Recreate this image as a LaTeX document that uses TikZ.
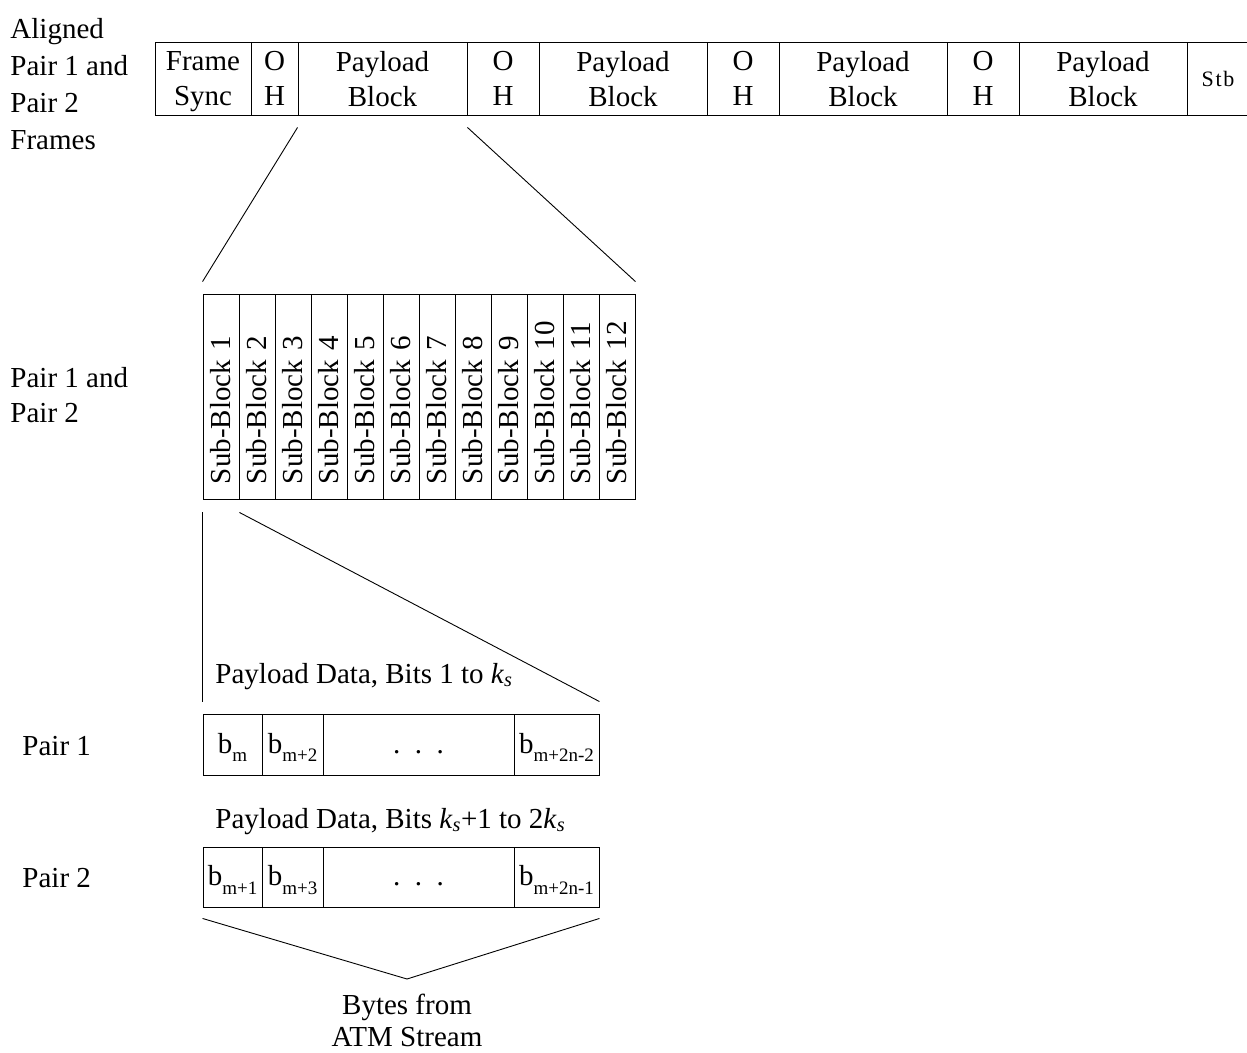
\documentclass[tikz,border=0pt]{standalone}
\usepackage{fontspec}
\setmainfont{Liberation Serif}
\usetikzlibrary{calc}

\tikzset{
  cell/.style={draw, inner sep=0pt, align=center, font=\fontsize{29}{35}\selectfont},
  bytecell/.style={cell, text height=21pt, text depth=4pt},
  lbl/.style={inner sep=0pt, align=left, font=\fontsize{29}{37}\selectfont},
}
\newcommand{\ks}{\textit{k}\textsubscript{\textit{s}}}
\newcommand{\lo}[1]{\raisebox{-0.3em}{\fontsize{19}{19}\selectfont #1}}

\begin{document}
\begin{tikzpicture}[x=1pt, y=-1pt, line width=0.9pt]
      \useasboundingbox (0,0) rectangle (1247,1052);

      % Frame row
      \node [lbl, anchor=base west] (frames) at (10,149) {Aligned\\Pair 1 and\\Pair 2\\Frames};
      \foreach \xa/\xb/\txt [count=\i] in {155/251/{Frame\\Sync}, 251/298/{O\\H},
          298/467/{Payload\\Block}, 467/539/{O\\H}, 539/707/{Payload\\Block},
          707/779/{O\\H}, 779/947/{Payload\\Block}, 947/1019/{O\\H}, 1019/1187/{Payload\\Block}} {
        \node [cell, text depth=0pt, minimum width={(\xb-\xa)*1pt}, minimum height=73pt] (f\i) at ({(\xa+\xb)/2},78.5) {\txt};
      }
      \node [cell, minimum width=62pt, minimum height=73pt,
        font=\fontsize{22}{26}\selectfont\addfontfeature{LetterSpace=8}] (stb) at (1218,78.5) {Stb};

      % Sub-blocks of one payload block
      \node [lbl, anchor=base west, font=\fontsize{29}{35}\selectfont] (pairs) at (10,422) {Pair 1 and\\Pair 2};
      \foreach \i in {1,...,12} {
        \node [cell, rotate=90, minimum width=205pt, minimum height=36pt,
          text width=175pt, inner xsep=15pt, align=left] (sb\i) at ({185+36*\i},396.5) {Sub-Block \i};
      }
      \draw ($(f3.south west)+(0,12)$) -- ($(sb1.north east)+(0,-12)$);
      \draw ($(f3.south east)+(0,12)$) -- ($(sb12.south east)+(0,-12)$);

      % Pair 1 bytes
      \node [lbl, anchor=base west] (pd1) at (215,683) {Payload Data, Bits 1 to \ks};
      \node [lbl, anchor=base west] (p1) at (22,755) {Pair 1};
      \foreach \xa/\xb/\txt [count=\i] in {203/262/{b\lo{m}}, 262/323/{b\lo{m+2}},
          323/514/{.\ \ .\ \ .}, 514/599/{b\lo{m+2n-2}}} {
        \node [bytecell, minimum width={(\xb-\xa)*1pt}, minimum height=61pt] (pa\i) at ({(\xa+\xb)/2},744.5) {\txt};
      }
      \draw ($(sb1.north west)+(0,13)$) -- ($(pa1.north west)+(0,-12)$);
      \draw ($(sb1.south west)+(0,13)$) -- ($(pa4.north east)+(0,-12)$);

      % Pair 2 bytes
      \node [lbl, anchor=base west] (pd2) at (215,828) {Payload Data, Bits \ks+1 to 2\ks};
      \node [lbl, anchor=base west] (p2) at (22,887) {Pair 2};
      \foreach \xa/\xb/\txt [count=\i] in {203/262/{b\lo{m+1}}, 262/323/{b\lo{m+3}},
          323/514/{.\ \ .\ \ .}, 514/599/{b\lo{m+2n-1}}} {
        \node [bytecell, minimum width={(\xb-\xa)*1pt}, minimum height=60pt] (pb\i) at ({(\xa+\xb)/2},877) {\txt};
      }

      % Source of the bytes
      \coordinate (apex) at (407,979);
      \draw ($(pb1.south west)+(0,11)$) -- (apex) -- ($(pb4.south east)+(0,11)$);
      \node [lbl, align=center, anchor=base, font=\fontsize{29}{32}\selectfont] (atm) at (407,1046) {Bytes from\\ATM Stream};
    \end{tikzpicture}
\end{document}
